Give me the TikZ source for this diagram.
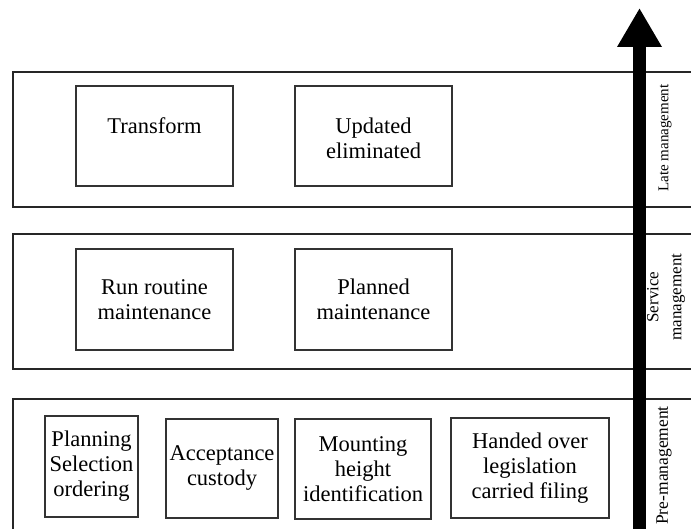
\documentclass[tikz,border=0pt]{standalone}
\usepackage{fontspec}
\setmainfont{Liberation Serif}
\usetikzlibrary{positioning,arrows.meta}

\begin{document}
\begin{tikzpicture}[x=1pt,y=-1pt,
    band/.style={draw=black!85,line width=1.2pt,minimum width=720pt,inner sep=0pt},
    box/.style={draw=black!80,line width=1.3pt,align=center,inner sep=0pt,
      font=\fontsize{22.5}{25}\selectfont},
    boxtext/.style={align=center,inner sep=0pt,font=\fontsize{22.5}{25}\selectfont},
    side/.style={rotate=90,inner sep=0pt,align=center,font=\fontsize{17}{23}\selectfont}]
  \useasboundingbox (0,0) rectangle (691,529);
  \clip (0,0) rectangle (691,529);

  % the three stages
  \node[band,minimum height=135pt] (late) at (373,139.5) {};
  \node[band,minimum height=135pt] (service) at (373,301.5) {};
  \node[band,minimum height=160pt] (pre) at (373,479) {};

  \node[box,minimum width=157pt,minimum height=100pt] (transform) at (154.5,136) {};
  \node[boxtext,below=32pt of transform.north] (transformtxt) {Transform};
  \node[box,minimum width=157pt,minimum height=100pt] (updated) at (373.5,136) {};
  \node[boxtext,below=32pt of updated.north] (updatedtxt) {Updated\\eliminated};

  \node[box,minimum width=157pt,minimum height=101pt] (routine) at (154.5,299.5) {Run routine\\maintenance};
  \node[box,minimum width=157pt,minimum height=101pt] (planned) at (373.5,299.5) {Planned\\maintenance};

  \node[box,minimum width=93pt,minimum height=101pt] (planning) at (91.5,466.5) {Planning\\Selection\\ordering};
  \node[box,minimum width=112pt,minimum height=99pt] (acceptance) at (222,468.5) {Acceptance\\custody};
  \node[box,minimum width=136pt,minimum height=100pt] (mounting) at (363,469) {Mounting\\height\\identification};
  \node[box,minimum width=158pt,minimum height=100pt] (handed) at (530,468) {Handed over\\legislation\\carried filing};

  % time axis
  \coordinate (arrowfoot) at (639.5,540);
  \coordinate (arrowtip) at (639.5,8);
  \draw[line width=13pt,-{Triangle[length=39pt,width=42pt]}] (arrowfoot) -- (arrowtip);

  \node[side,font=\fontsize{15}{18}\selectfont] (latelbl) at (665,138) {Late management};
  \node[side] (servicelbl) at (666,297) {Service\\management};
  \node[side,anchor=east,font=\fontsize{17.5}{23}\selectfont] (prelbl) at (664,406) {Pre-management};
\end{tikzpicture}
\end{document}
